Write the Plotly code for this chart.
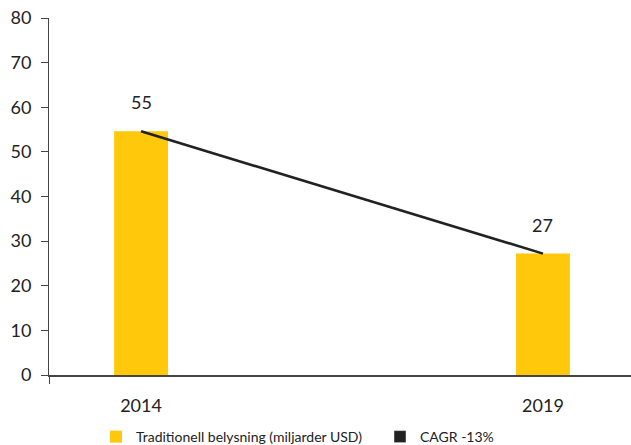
import plotly.graph_objects as go

years = ["2014", "2019"]
positions = [0, 1]
values = [54.6, 27.2]
value_labels = ["55", "27"]
bar_name = "Traditionell belysning (miljarder USD)"
line_name = "CAGR -13%"
y_ticks = [0, 10, 20, 30, 40, 50, 60, 70, 80]

YELLOW = "#FFC80B"
DARK = "#222222"
AXIS = "#444444"
FONT = "Lato"

x_range = [-0.229, 1.219]

fig = go.Figure()
fig.add_trace(go.Bar(
    x=positions, y=values, width=0.134, marker=dict(color=YELLOW, line=dict(width=0)),
    name=bar_name, hoverinfo="skip", legend="legend",
))
fig.add_trace(go.Scatter(
    x=positions, y=values, mode="lines", line=dict(color=DARK, width=2.6),
    showlegend=False, hoverinfo="skip",
))
fig.add_trace(go.Bar(
    x=[None], y=[None], marker=dict(color=DARK), name=line_name, legend="legend2",
))
# helper axis for the small tick below the origin
fig.add_trace(go.Scatter(x=[None], y=[None], xaxis="x2", showlegend=False))

for p, v, t in zip(positions, values, value_labels):
    fig.add_annotation(x=p, y=v, text=t, showarrow=False, yshift=29,
                       font=dict(family=FONT, size=18, color=DARK))

legend_common = dict(
    orientation="h", xanchor="left", yanchor="middle", xref="container", yref="container",
    y=1 - 437 / 445, font=dict(family=FONT, size=14, color=DARK),
    bgcolor="rgba(0,0,0,0)",
)

fig.update_layout(
    width=631, height=445,
    margin=dict(l=49, r=0, t=18, b=70, autoexpand=False),
    paper_bgcolor="white", plot_bgcolor="white",
    font=dict(family=FONT, size=18, color=DARK),
    barmode="overlay",
    xaxis=dict(
        range=x_range, tickvals=positions, ticktext=years, ticks="", automargin=False,
        showline=True, linecolor=AXIS, linewidth=1.5, showgrid=False, zeroline=False,
        ticklabelstandoff=14, tickfont=dict(family=FONT, size=18, color=DARK),
    ),
    xaxis2=dict(
        range=x_range, overlaying="x", side="bottom", tickvals=[x_range[0]], ticktext=[""],
        ticks="outside", ticklen=8, tickcolor=AXIS, tickwidth=1, showline=False,
        showgrid=False, zeroline=False, automargin=False,
    ),
    yaxis=dict(
        range=[0, 80], tickvals=y_ticks, ticks="outside", ticklen=7, tickcolor=AXIS,
        showline=True, linecolor=AXIS, linewidth=1, showgrid=False, zeroline=False,
        automargin=False,
        ticklabelstandoff=6, tickfont=dict(family=FONT, size=18, color=DARK),
    ),
    legend=dict(x=96 / 631, **legend_common),
    legend2=dict(x=380 / 631, **legend_common),
)

fig.write_html(
    "out.html",
    config={"displayModeBar": False},
    post_script="document.body.style.margin='0';document.body.style.padding='0';",
)
